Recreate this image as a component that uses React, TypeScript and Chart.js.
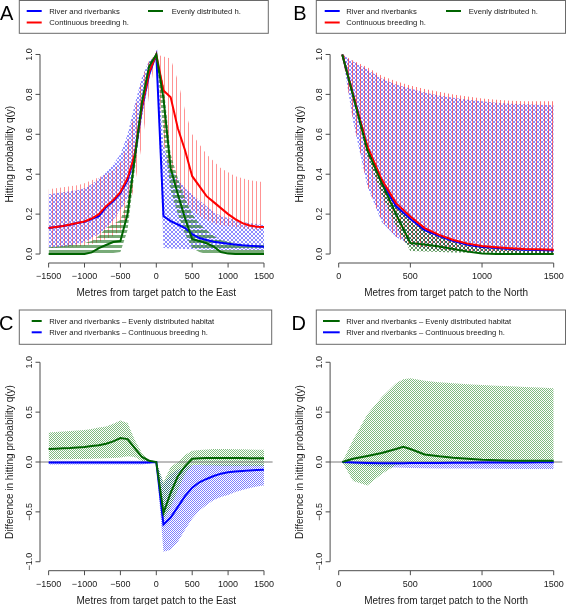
import React, { useEffect, useRef } from "react";
import { Chart, registerables } from "chart.js";

Chart.register(...registerables);

const W = 566;
const H = 605;
const FONT = "'Liberation Sans', Arial, Helvetica, sans-serif";
const BLUE = "#0000ff";
const RED = "#ff0000";
const GREEN = "#006400";
const TEXT = "#1a1a1a";
const AXIS = "#4d4d4d";

// ---------- categories / ticks ----------
const EAST_X = [-1500, -1400, -1300, -1200, -1100, -1000, -900, -800, -700, -600, -500, -400, -300, -200, -100, 0,
  100, 200, 300, 400, 500, 600, 700, 800, 900, 1000, 1100, 1200, 1300, 1400, 1500];
const NORTH_X = [25, 100, 200, 300, 400, 500, 600, 700, 800, 900, 1000, 1100, 1200, 1300, 1400, 1500];
const NORTH_X_D = [25, 100, 200, 300, 400, 450, 500, 600, 700, 800, 900, 1000, 1100, 1200, 1300, 1400, 1500];

const EAST_TICKS = [-1500, -1000, -500, 0, 500, 1000, 1500];
const EAST_TICK_LABELS = ["\u22121500", "\u22121000", "\u2212500", "0", "500", "1000", "1500"];
const NORTH_TICKS = [0, 500, 1000, 1500];
const NORTH_TICK_LABELS = ["0", "500", "1000", "1500"];
const PROB_TICKS = [0, 0.2, 0.4, 0.6, 0.8, 1.0];
const PROB_TICK_LABELS = ["0.0", "0.2", "0.4", "0.6", "0.8", "1.0"];
const DIFF_TICKS = [-1, -0.5, 0, 0.5, 1];
const DIFF_TICK_LABELS = ["\u22121.0", "\u22120.5", "0.0", "0.5", "1.0"];

// ---------- Panel A (East) ----------
const A_RED = [0.13, 0.135, 0.14, 0.148, 0.155, 0.163, 0.178, 0.2, 0.24, 0.27, 0.31, 0.38, 0.5, 0.74, 0.91, 1.0,
  0.82, 0.785, 0.63, 0.52, 0.39, 0.34, 0.29, 0.26, 0.23, 0.2, 0.175, 0.155, 0.143, 0.137, 0.135];
const A_BLUE = [0.13, 0.135, 0.14, 0.147, 0.155, 0.162, 0.175, 0.19, 0.235, 0.265, 0.305, 0.37, 0.49, 0.73, 0.9, 1.0,
  0.19, 0.165, 0.148, 0.13, 0.1, 0.08, 0.07, 0.062, 0.056, 0.052, 0.048, 0.044, 0.041, 0.039, 0.037];
const A_GREEN = [0, 0, 0, 0, 0, 0, 0.008, 0.03, 0.045, 0.06, 0.065, 0.2, 0.48, 0.76, 0.94, 1.0,
  0.78, 0.43, 0.3, 0.18, 0.075, 0.065, 0.054, 0.037, 0.01, 0.002, 0, 0, 0, 0, 0];
const A_RED_UP = [0.325, 0.33, 0.335, 0.34, 0.345, 0.355, 0.37, 0.385, 0.4, 0.42, 0.46, 0.55, 0.72, 0.88, 0.97, 1.0,
  0.99, 0.98, 0.87, 0.72, 0.6, 0.55, 0.5, 0.465, 0.43, 0.41, 0.39, 0.38, 0.37, 0.365, 0.36];
const A_RED_LO = [0.03, 0.032, 0.034, 0.036, 0.038, 0.04, 0.05, 0.06, 0.075, 0.09, 0.12, 0.2, 0.35, 0.55, 0.8, 1.0,
  0.55, 0.42, 0.33, 0.27, 0.22, 0.19, 0.17, 0.155, 0.145, 0.14, 0.135, 0.13, 0.125, 0.12, 0.12];
const A_BLUE_UP = [0.3, 0.305, 0.31, 0.315, 0.32, 0.33, 0.35, 0.38, 0.41, 0.45, 0.5, 0.6, 0.75, 0.885, 0.97, 1.0,
  0.55, 0.42, 0.38, 0.33, 0.3, 0.27, 0.24, 0.21, 0.19, 0.18, 0.17, 0.16, 0.155, 0.15, 0.146];
const A_BLUE_LO = [0.03, 0.033, 0.037, 0.04, 0.05, 0.06, 0.08, 0.1, 0.13, 0.17, 0.22, 0.28, 0.45, 0.68, 0.88, 1.0,
  0.03, 0.028, 0.026, 0.025, 0.024, 0.023, 0.022, 0.021, 0.02, 0.02, 0.02, 0.02, 0.02, 0.02, 0.02];
const A_GREEN_UP = [0.035, 0.037, 0.04, 0.045, 0.05, 0.055, 0.065, 0.09, 0.13, 0.15, 0.17, 0.27, 0.52, 0.8, 0.96, 1.0,
  0.85, 0.5, 0.38, 0.28, 0.2, 0.15, 0.12, 0.09, 0.07, 0.06, 0.055, 0.05, 0.05, 0.05, 0.05];
const A_GREEN_LO = [0, 0, 0, 0, 0, 0, 0, 0, 0, 0.005, 0.01, 0.12, 0.42, 0.72, 0.92, 1.0,
  0.6, 0.32, 0.2, 0.1, 0.03, 0.01, 0, 0, 0, 0, 0, 0, 0, 0, 0];

// ---------- Panel B (North) ----------
const B_RED = [1.0, 0.8, 0.54, 0.373, 0.255, 0.188, 0.13, 0.096, 0.07, 0.052, 0.04, 0.034, 0.029, 0.025, 0.024, 0.022];
const B_BLUE = [1.0, 0.8, 0.535, 0.36, 0.24, 0.175, 0.12, 0.09, 0.065, 0.046, 0.035, 0.03, 0.025, 0.022, 0.02, 0.018];
const B_GREEN = [1.0, 0.795, 0.52, 0.355, 0.2, 0.055, 0.048, 0.038, 0.025, 0.012, 0.003, 0, 0, 0, 0, 0];
const B_RED_UP = [1.0, 0.97, 0.936, 0.894, 0.866, 0.844, 0.827, 0.813, 0.8, 0.79, 0.78, 0.773, 0.768, 0.765, 0.765, 0.765];
const B_RED_LO = [1.0, 0.675, 0.345, 0.166, 0.087, 0.045, 0.029, 0.022, 0.018, 0.015, 0.012, 0.01, 0.008, 0.007, 0.006, 0.005];
const B_BLUE_UP = [1.0, 0.965, 0.925, 0.88, 0.85, 0.83, 0.81, 0.795, 0.783, 0.773, 0.765, 0.758, 0.753, 0.75, 0.748, 0.746];
const B_BLUE_LO = [1.0, 0.665, 0.34, 0.16, 0.085, 0.043, 0.028, 0.021, 0.017, 0.014, 0.011, 0.009, 0.007, 0.006, 0.005, 0.004];
const B_GREEN_UP = [1.0, 0.8, 0.535, 0.36, 0.24, 0.17, 0.12, 0.09, 0.065, 0.046, 0.035, 0.028, 0.022, 0.019, 0.017, 0.015];
const B_GREEN_LO = [1.0, 0.78, 0.49, 0.3, 0.14, 0.015, 0.012, 0.01, 0.008, 0.006, 0.004, 0.003, 0.002, 0.002, 0.001, 0.001];

// ---------- Panel C (East, differences) ----------
const C_GREEN = [0.13, 0.133, 0.137, 0.14, 0.145, 0.15, 0.16, 0.167, 0.183, 0.207, 0.24, 0.23, 0.14, 0.05, 0.013, 0,
  -0.51, -0.31, -0.143, -0.043, 0.033, 0.037, 0.04, 0.04, 0.04, 0.04, 0.04, 0.04, 0.038, 0.037, 0.037];
const C_BLUE = [-0.004, -0.004, -0.004, -0.004, -0.004, -0.004, -0.004, -0.004, -0.004, -0.004, -0.004, -0.004, -0.004, -0.004, -0.004, 0,
  -0.627, -0.557, -0.45, -0.343, -0.257, -0.203, -0.17, -0.14, -0.117, -0.103, -0.095, -0.09, -0.084, -0.08, -0.077];
const C_GREEN_UP = [0.297, 0.3, 0.305, 0.31, 0.315, 0.32, 0.33, 0.345, 0.357, 0.383, 0.417, 0.39, 0.22, 0.09, 0.023, 0,
  -0.2, -0.05, 0.0, 0.07, 0.113, 0.12, 0.125, 0.13, 0.13, 0.13, 0.128, 0.127, 0.125, 0.124, 0.123];
const C_GREEN_LO = [0.023, 0.025, 0.027, 0.028, 0.029, 0.03, 0.033, 0.035, 0.037, 0.04, 0.045, 0.057, 0.05, 0.01, 0, 0,
  -0.58, -0.45, -0.28, -0.12, -0.03, -0.03, -0.035, -0.035, -0.04, -0.04, -0.04, -0.04, -0.04, -0.04, -0.04];
const C_BLUE_UP = [0.012, 0.012, 0.012, 0.012, 0.012, 0.012, 0.012, 0.012, 0.012, 0.012, 0.012, 0.012, 0.012, 0.012, 0.01, 0,
  -0.22, -0.12, -0.075, -0.045, -0.03, -0.027, -0.025, -0.025, -0.025, -0.025, -0.025, -0.025, -0.025, -0.025, -0.025];
const C_BLUE_LO = [-0.025, -0.025, -0.025, -0.025, -0.025, -0.025, -0.025, -0.025, -0.025, -0.025, -0.025, -0.025, -0.025, -0.025, -0.015, 0,
  -0.9, -0.88, -0.8, -0.68, -0.57, -0.49, -0.43, -0.38, -0.35, -0.33, -0.3, -0.28, -0.26, -0.245, -0.235];

// ---------- Panel D (North, differences) ----------
const D_GREEN = [0, 0.033, 0.06, 0.09, 0.13, 0.153, 0.13, 0.075, 0.057, 0.043, 0.033, 0.023, 0.017, 0.013, 0.013, 0.012, 0.012];
const D_BLUE = [0, -0.005, -0.01, -0.012, -0.012, -0.012, -0.011, -0.01, -0.009, -0.008, -0.007, -0.006, -0.005, -0.004, -0.004, -0.003, -0.003];
const D_GREEN_UP = [0, 0.22, 0.48, 0.65, 0.79, 0.83, 0.84, 0.815, 0.8, 0.79, 0.78, 0.773, 0.765, 0.76, 0.752, 0.746, 0.74];
const D_GREEN_LO = [0, -0.19, -0.235, -0.12, -0.03, -0.02, -0.015, -0.012, -0.01, -0.01, -0.01, -0.01, -0.01, -0.01, -0.01, -0.01, -0.01];
const D_BLUE_UP = [0, 0.004, 0.005, 0.005, 0.005, 0.005, 0.005, 0.005, 0.005, 0.005, 0.005, 0.005, 0.005, 0.005, 0.005, 0.005, 0.005];
const D_BLUE_LO = [0, -0.02, -0.04, -0.05, -0.055, -0.058, -0.06, -0.062, -0.064, -0.065, -0.066, -0.067, -0.068, -0.069, -0.07, -0.07, -0.07];

// ---------- labels ----------
const LBL_RIVER = "River and riverbanks";
const LBL_EVEN = "Evenly distributed h.";
const LBL_CONT = "Continuous breeding h.";
const LBL_DIFF_EVEN = "River and riverbanks \u2013 Evenly distributed habitat";
const LBL_DIFF_CONT = "River and riverbanks \u2013 Continuous breeding h.";
const TITLE_EAST = "Metres from target patch to the East";
const TITLE_NORTH = "Metres from target patch to the North";
const TITLE_PROB = "Hitting probability q(y)";
const TITLE_DIFF = "Difference in hitting probability q(y)";

type PatternKind = "vlines" | "hlines" | "cross" | "check";
type LineDef = { xs: number[]; ys: number[]; color: string };
type BandDef = { xs: number[]; up: number[]; lo: number[]; kind: PatternKind; color: string };
type Entry = { label: string; color: string; row: number; col: number };
type Spec = {
  letter: string; letterX: number; letterY: number;
  area: { l: number; r: number; t: number; b: number };
  xRange: [number, number]; yRange: [number, number];
  xTicks: number[]; xTickLabels: string[]; yTicks: number[]; yTickLabels: string[];
  xTitle: string; yTitle: string;
  zeroLine: boolean;
  legendBox: [number, number, number, number];
  legendRows: number[];
  legendCols: { l0: number; l1: number; t: number }[];
  entries: Entry[];
  lines: LineDef[];
  bands: BandDef[]; // first band ends up on top
};

const PANELS: Spec[] = [
  {
    letter: "A", letterX: 0, letterY: 20,
    area: { l: 40, r: 272.6, t: 46.5, b: 262 },
    xRange: [-1620, 1620], yRange: [-0.04, 1.04],
    xTicks: EAST_TICKS, xTickLabels: EAST_TICK_LABELS, yTicks: PROB_TICKS, yTickLabels: PROB_TICK_LABELS,
    xTitle: TITLE_EAST, yTitle: TITLE_PROB, zeroLine: false,
    legendBox: [19.3, 0.5, 268.3, 33.3], legendRows: [11, 22.5],
    legendCols: [{ l0: 26.7, l1: 41.7, t: 49.3 }, { l0: 148, l1: 163, t: 171.7 }],
    entries: [
      { label: LBL_RIVER, color: BLUE, row: 0, col: 0 },
      { label: LBL_EVEN, color: GREEN, row: 0, col: 1 },
      { label: LBL_CONT, color: RED, row: 1, col: 0 },
    ],
    lines: [
      { xs: EAST_X, ys: A_GREEN, color: GREEN },
      { xs: EAST_X, ys: A_RED, color: RED },
      { xs: EAST_X, ys: A_BLUE, color: BLUE },
    ],
    bands: [
      { xs: EAST_X, up: A_GREEN_UP, lo: A_GREEN_LO, kind: "hlines", color: "rgba(30,115,30,0.6)" },
      { xs: EAST_X, up: A_RED_UP, lo: A_RED_LO, kind: "vlines", color: "rgba(255,40,40,0.5)" },
      { xs: EAST_X, up: A_BLUE_UP, lo: A_BLUE_LO, kind: "cross", color: "rgba(30,30,255,0.5)" },
    ],
  },
  {
    letter: "B", letterX: 293.2, letterY: 20,
    area: { l: 330.1, r: 562.3, t: 46.5, b: 262 },
    xRange: [-60, 1560], yRange: [-0.04, 1.04],
    xTicks: NORTH_TICKS, xTickLabels: NORTH_TICK_LABELS, yTicks: PROB_TICKS, yTickLabels: PROB_TICK_LABELS,
    xTitle: TITLE_NORTH, yTitle: TITLE_PROB, zeroLine: false,
    legendBox: [316.3, 0.5, 565.5, 33.3], legendRows: [11, 22.5],
    legendCols: [{ l0: 324.7, l1: 339.7, t: 346.3 }, { l0: 446, l1: 461, t: 468.7 }],
    entries: [
      { label: LBL_RIVER, color: BLUE, row: 0, col: 0 },
      { label: LBL_EVEN, color: GREEN, row: 0, col: 1 },
      { label: LBL_CONT, color: RED, row: 1, col: 0 },
    ],
    lines: [
      { xs: NORTH_X, ys: B_GREEN, color: GREEN },
      { xs: NORTH_X, ys: B_RED, color: RED },
      { xs: NORTH_X, ys: B_BLUE, color: BLUE },
    ],
    bands: [
      { xs: NORTH_X, up: B_GREEN_UP, lo: B_GREEN_LO, kind: "cross", color: "rgba(0,90,0,0.6)" },
      { xs: NORTH_X, up: B_RED_UP, lo: B_RED_LO, kind: "vlines", color: "rgba(255,30,30,0.6)" },
      { xs: NORTH_X, up: B_BLUE_UP, lo: B_BLUE_LO, kind: "cross", color: "rgba(0,0,255,0.45)" },
    ],
  },
  {
    letter: "C", letterX: -1, letterY: 330,
    area: { l: 40, r: 272.6, t: 354.3, b: 569.7 },
    xRange: [-1620, 1620], yRange: [-1.08, 1.08],
    xTicks: EAST_TICKS, xTickLabels: EAST_TICK_LABELS, yTicks: DIFF_TICKS, yTickLabels: DIFF_TICK_LABELS,
    xTitle: TITLE_EAST, yTitle: TITLE_DIFF, zeroLine: true,
    legendBox: [19.3, 310, 271.7, 344.3], legendRows: [321, 332.3],
    legendCols: [{ l0: 31.7, l1: 41.7, t: 49.3 }],
    entries: [
      { label: LBL_DIFF_EVEN, color: GREEN, row: 0, col: 0 },
      { label: LBL_DIFF_CONT, color: BLUE, row: 1, col: 0 },
    ],
    lines: [
      { xs: EAST_X, ys: C_GREEN, color: GREEN },
      { xs: EAST_X, ys: C_BLUE, color: BLUE },
    ],
    bands: [
      { xs: EAST_X, up: C_GREEN_UP, lo: C_GREEN_LO, kind: "check", color: "rgba(0,120,0,0.5)" },
      { xs: EAST_X, up: C_BLUE_UP, lo: C_BLUE_LO, kind: "check", color: "rgba(0,0,255,0.5)" },
    ],
  },
  {
    letter: "D", letterX: 291.5, letterY: 330,
    area: { l: 330.1, r: 562.3, t: 354.3, b: 569.7 },
    xRange: [-60, 1560], yRange: [-1.08, 1.08],
    xTicks: NORTH_TICKS, xTickLabels: NORTH_TICK_LABELS, yTicks: DIFF_TICKS, yTickLabels: DIFF_TICK_LABELS,
    xTitle: TITLE_NORTH, yTitle: TITLE_DIFF, zeroLine: true,
    legendBox: [316.3, 310, 565.5, 344.3], legendRows: [321, 332.3],
    legendCols: [{ l0: 323, l1: 339.7, t: 346.3 }],
    entries: [
      { label: LBL_DIFF_EVEN, color: GREEN, row: 0, col: 0 },
      { label: LBL_DIFF_CONT, color: BLUE, row: 1, col: 0 },
    ],
    lines: [
      { xs: NORTH_X_D, ys: D_GREEN, color: GREEN },
      { xs: NORTH_X_D, ys: D_BLUE, color: BLUE },
    ],
    bands: [
      { xs: NORTH_X_D, up: D_GREEN_UP, lo: D_GREEN_LO, kind: "check", color: "rgba(0,120,0,0.5)" },
      { xs: NORTH_X_D, up: D_BLUE_UP, lo: D_BLUE_LO, kind: "check", color: "rgba(0,0,255,0.5)" },
    ],
  },
];

const pts = (xs: number[], ys: number[]) => xs.map((x, i) => ({ x, y: ys[i] }));

function makePattern(ctx: CanvasRenderingContext2D, kind: PatternKind, color: string): CanvasPattern {
  const tile = document.createElement("canvas");
  let cells: number[][] = [];
  let w = 4, h = 4;
  if (kind === "vlines") { w = 4; h = 1; cells = [[0, 0]]; }
  else if (kind === "hlines") { w = 1; h = 5; cells = [[0, 0], [0, 1], [0, 2]]; }
  else if (kind === "cross") { w = 4; h = 4; cells = [[0, 0], [1, 1], [2, 2], [3, 3], [0, 3], [1, 2], [2, 1], [3, 0]]; }
  else { w = 2; h = 2; cells = [[0, 0], [1, 1]]; }
  tile.width = w; tile.height = h;
  const g = tile.getContext("2d")!;
  g.fillStyle = color;
  cells.forEach(([x, y]) => g.fillRect(x, y, 1, 1));
  return ctx.createPattern(tile, "repeat")!;
}

function decorPlugin(spec: Spec) {
  return {
    id: "decor" + spec.letter,
    beforeDatasetsDraw(chart: any) {
      if (!spec.zeroLine) return;
      const { ctx, chartArea, scales } = chart;
      const py = scales.y.getPixelForValue(0);
      ctx.save();
      ctx.strokeStyle = "#7a7a7a";
      ctx.lineWidth = 1;
      ctx.beginPath();
      ctx.moveTo(chartArea.left, py);
      ctx.lineTo(chartArea.right, py);
      ctx.stroke();
      ctx.restore();
    },
    afterDraw(chart: any) {
      const { ctx, chartArea, scales } = chart;
      const xs = scales.x, ys = scales.y;
      ctx.save();
      // panel letter
      ctx.fillStyle = "#000";
      ctx.font = `20px ${FONT}`;
      ctx.textAlign = "left";
      ctx.textBaseline = "alphabetic";
      ctx.fillText(spec.letter, spec.letterX, spec.letterY);

      // legend
      const [bx0, by0, bx1, by1] = spec.legendBox;
      ctx.strokeStyle = "#6a6a6a";
      ctx.lineWidth = 1;
      ctx.strokeRect(bx0, by0, bx1 - bx0, by1 - by0);
      ctx.font = `7.7px ${FONT}`;
      ctx.textBaseline = "middle";
      spec.entries.forEach((e) => {
        const col = spec.legendCols[e.col];
        const ry = spec.legendRows[e.row];
        ctx.strokeStyle = e.color;
        ctx.lineWidth = 2;
        ctx.beginPath();
        ctx.moveTo(col.l0, ry);
        ctx.lineTo(col.l1, ry);
        ctx.stroke();
        ctx.fillStyle = TEXT;
        ctx.fillText(e.label, col.t, ry + 0.5);
      });

      // y axis
      const ax = chartArea.left;
      const yt = spec.yTicks;
      ctx.strokeStyle = AXIS;
      ctx.lineWidth = 1;
      ctx.beginPath();
      ctx.moveTo(ax, ys.getPixelForValue(yt[0]));
      ctx.lineTo(ax, ys.getPixelForValue(yt[yt.length - 1]));
      yt.forEach((v) => {
        const py = ys.getPixelForValue(v);
        ctx.moveTo(ax, py);
        ctx.lineTo(ax - 4.5, py);
      });
      ctx.stroke();
      ctx.fillStyle = TEXT;
      ctx.font = `9px ${FONT}`;
      ctx.textAlign = "center";
      ctx.textBaseline = "alphabetic";
      yt.forEach((v, i) => {
        const py = ys.getPixelForValue(v);
        ctx.save();
        ctx.translate(ax - 7.8, py);
        ctx.rotate(-Math.PI / 2);
        ctx.fillText(spec.yTickLabels[i], 0, 0);
        ctx.restore();
      });
      ctx.font = `10px ${FONT}`;
      ctx.save();
      ctx.translate(ax - 27.5, (chartArea.top + chartArea.bottom) / 2);
      ctx.rotate(-Math.PI / 2);
      ctx.fillText(spec.yTitle, 0, 0);
      ctx.restore();

      // x axis
      const ay = chartArea.bottom + 1;
      const xt = spec.xTicks;
      ctx.beginPath();
      ctx.moveTo(xs.getPixelForValue(xt[0]), ay);
      ctx.lineTo(xs.getPixelForValue(xt[xt.length - 1]), ay);
      xt.forEach((v) => {
        const px = xs.getPixelForValue(v);
        ctx.moveTo(px, ay);
        ctx.lineTo(px, ay + 4.5);
      });
      ctx.stroke();
      ctx.font = `9px ${FONT}`;
      xt.forEach((v, i) => {
        ctx.fillText(spec.xTickLabels[i], xs.getPixelForValue(v), ay + 15.8);
      });
      ctx.font = `10px ${FONT}`;
      ctx.fillText(spec.xTitle, (chartArea.left + chartArea.right) / 2, ay + 33.3);
      ctx.restore();
    },
  };
}

function buildChart(canvas: HTMLCanvasElement, spec: Spec): Chart {
  const ctx = canvas.getContext("2d")!;
  const datasets: any[] = [];
  spec.lines.forEach((l) => {
    datasets.push({
      data: pts(l.xs, l.ys),
      borderColor: l.color,
      borderWidth: 2,
      pointRadius: 0,
      fill: false,
      tension: 0,
    });
  });
  spec.bands.forEach((b) => {
    datasets.push({
      data: pts(b.xs, b.up),
      borderColor: "rgba(0,0,0,0)",
      borderWidth: 0,
      pointRadius: 0,
      tension: 0,
      fill: "+1",
      backgroundColor: makePattern(ctx, b.kind, b.color),
    });
    datasets.push({
      data: pts(b.xs, b.lo),
      borderColor: "rgba(0,0,0,0)",
      borderWidth: 0,
      pointRadius: 0,
      tension: 0,
      fill: false,
    });
  });
  const a = spec.area;
  return new Chart(canvas, {
    type: "line",
    data: { datasets },
    options: {
      responsive: false,
      animation: false,
      devicePixelRatio: 1,
      events: [],
      layout: { padding: { left: a.l, right: W - a.r, top: a.t, bottom: H - a.b } },
      scales: {
        x: { type: "linear", min: spec.xRange[0], max: spec.xRange[1], display: false },
        y: { type: "linear", min: spec.yRange[0], max: spec.yRange[1], display: false },
      },
      plugins: {
        legend: { display: false },
        tooltip: { enabled: false },
        filler: { drawTime: "beforeDatasetsDraw" },
      },
    } as any,
    plugins: [decorPlugin(spec)],
  });
}

export default function App() {
  const refs = useRef<(HTMLCanvasElement | null)[]>([]);
  useEffect(() => {
    const charts = PANELS.map((spec, i) => buildChart(refs.current[i]!, spec));
    return () => charts.forEach((c) => c.destroy());
  }, []);
  return (
    <div style={{ position: "absolute", left: 0, top: 0, width: W, height: H, background: "#fff" }}>
      {PANELS.map((p, i) => (
        <canvas
          key={p.letter}
          ref={(el) => { refs.current[i] = el; }}
          width={W}
          height={H}
          style={{ position: "absolute", left: 0, top: 0, width: W, height: H }}
        />
      ))}
    </div>
  );
}
